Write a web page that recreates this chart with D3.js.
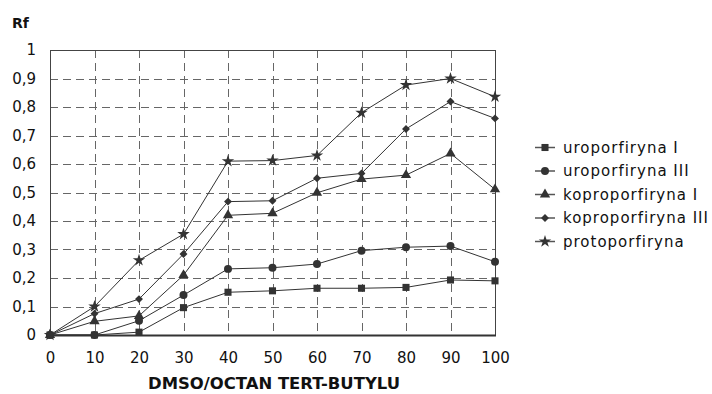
<!DOCTYPE html>
<html>
<head>
<meta charset="utf-8">
<script src="https://cdn.jsdelivr.net/npm/d3@7"></script>
<style>
  body { margin: 0; background: #fff; }
  svg { display: block; font-family: "DejaVu Sans", Verdana, sans-serif; }
</style>
</head>
<body>
<svg id="chart" width="712" height="394"></svg>
<script>
// Rf values vs. DMSO / tert-butyl acetate ratio
const ratios = [0, 10, 20, 30, 40, 50, 60, 70, 80, 90, 100];
const seriesNames = ["uroporfiryna I", "uroporfiryna III", "koproporfiryna I", "koproporfiryna III", "protoporfiryna"];
const uroI    = [0, 0, 0.01, 0.096, 0.15, 0.155, 0.164, 0.164, 0.167, 0.193, 0.19];
const uroIII  = [0, 0, 0.05, 0.14, 0.232, 0.236, 0.249, 0.296, 0.308, 0.312, 0.257];
const koproI  = [0, 0.048, 0.067, 0.21, 0.42, 0.427, 0.499, 0.547, 0.561, 0.637, 0.511];
const koproIII = [0, 0.075, 0.126, 0.284, 0.468, 0.471, 0.55, 0.567, 0.723, 0.819, 0.76];
const proto   = [0, 0.1, 0.262, 0.354, 0.61, 0.612, 0.63, 0.78, 0.877, 0.90, 0.836];
const yTicks = [0, 0.1, 0.2, 0.3, 0.4, 0.5, 0.6, 0.7, 0.8, 0.9, 1];
const xTitle = "DMSO/OCTAN TERT-BUTYLU";
const yTitle = "Rf";

const seriesValues = [uroI, uroIII, koproI, koproIII, proto];
const symbols = [d3.symbolSquare, d3.symbolCircle, d3.symbolTriangle, d3.symbolDiamond2, d3.symbolStar];
const symbolSizes = [50, 50, 46, 40, 48];

const svg = d3.select("#chart");
const ink = "#333";
const plotL = 50, plotR = 495, plotT = 50, plotB = 335;

const x = d3.scaleLinear().domain([0, 100]).range([plotL, plotR]);
const y = d3.scaleLinear().domain([0, 1]).range([plotB, plotT]);

// Dashed grid
const grid = svg.append("g").attr("stroke", "#666").attr("stroke-width", 1)
  .attr("stroke-dasharray", "8,5").attr("shape-rendering", "crispEdges");
grid.selectAll("line.h").data(yTicks.filter(d => d > 0)).join("line")
  .attr("class", "h")
  .attr("x1", plotL).attr("x2", plotR)
  .attr("y1", d => Math.round(y(d)) + 0.5).attr("y2", d => Math.round(y(d)) + 0.5);
grid.selectAll("line.v").data(ratios.filter(d => d > 0 && d < 100)).join("line")
  .attr("class", "v")
  .attr("y1", plotT).attr("y2", plotB)
  .attr("x1", d => Math.round(x(d)) + 0.5).attr("x2", d => Math.round(x(d)) + 0.5);

// Plot frame
svg.append("rect")
  .attr("x", plotL + 0.5).attr("y", plotT + 0.5)
  .attr("width", plotR - plotL).attr("height", plotB - plotT)
  .attr("fill", "none").attr("stroke", "#444").attr("stroke-width", 1)
  .attr("shape-rendering", "crispEdges");
svg.append("line").attr("x1", plotL).attr("x2", plotR + 1)
  .attr("y1", plotB + 0.5).attr("y2", plotB + 0.5)
  .attr("stroke", "#333").attr("stroke-width", 2);

// Axes (labels only)
const fmt = d => d3.format(".1f")(d).replace(".", ",").replace(/^1,0$/, "1").replace(/^0,0$/, "0");
const yAxis = svg.append("g").attr("transform", `translate(${plotL},0)`)
  .call(d3.axisLeft(y).tickValues(yTicks).tickFormat(fmt).tickSize(0).tickPadding(14));
yAxis.select(".domain").remove();
yAxis.selectAll("text").attr("font-size", 15).attr("fill", "#111")
  .attr("font-family", "DejaVu Sans, Verdana, sans-serif");

const xAxis = svg.append("g").attr("transform", `translate(0,${plotB})`)
  .call(d3.axisBottom(x).tickValues(ratios).tickSize(0).tickPadding(17));
xAxis.select(".domain").remove();
xAxis.selectAll("text").attr("font-size", 15).attr("fill", "#111")
  .attr("font-family", "DejaVu Sans, Verdana, sans-serif");

// Titles
svg.append("text").attr("x", 12).attr("y", 28)
  .attr("font-size", 14).attr("font-weight", "bold").attr("fill", "#111").text(yTitle);
svg.append("text").attr("x", 274).attr("y", 389)
  .attr("text-anchor", "middle").attr("font-size", 15).attr("font-weight", "bold")
  .attr("fill", "#111").attr("textLength", 252).attr("lengthAdjust", "spacingAndGlyphs")
  .text(xTitle);

// Series lines and markers
const line = d3.line().x((d, i) => x(ratios[i])).y(d => y(d));
seriesValues.forEach((vals, s) => {
  const g = svg.append("g");
  g.append("path").datum(vals)
    .attr("d", line).attr("fill", "none").attr("stroke", ink).attr("stroke-width", 1);
  g.selectAll("path.m").data(vals).join("path")
    .attr("class", "m")
    .attr("transform", (d, i) => `translate(${x(ratios[i])},${y(d)})`)
    .attr("d", d3.symbol().type(symbols[s]).size(symbolSizes[s]))
    .attr("fill", ink);
});

// Legend
const legend = svg.append("g");
seriesNames.forEach((name, s) => {
  const ly = 147.5 + s * 23.5;
  legend.append("line").attr("x1", 535).attr("x2", 555).attr("y1", ly).attr("y2", ly)
    .attr("stroke", "#555").attr("stroke-width", 1.5);
  legend.append("path").attr("transform", `translate(545,${ly})`)
    .attr("d", d3.symbol().type(symbols[s]).size(symbolSizes[s])).attr("fill", ink);
  legend.append("text").attr("x", 563).attr("y", ly + 5)
    .attr("font-size", 15).attr("letter-spacing", 1).attr("fill", "#111").text(name);
});
</script>
</body>
</html>
